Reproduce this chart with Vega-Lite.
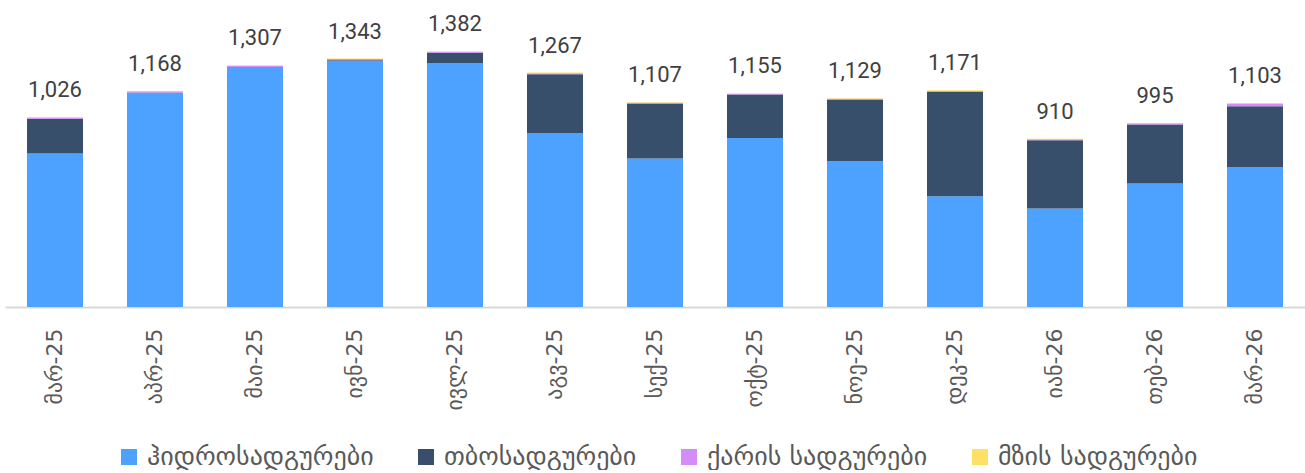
{
  "$schema": "https://vega.github.io/schema/vega-lite/v6.json",
  "width": 1300,
  "height": 296,
  "padding": {"left": 5, "top": 11, "right": 0, "bottom": 0},
  "background": "white",
  "config": {"view": {"stroke": null}, "font": "Roboto, DejaVu Sans"},
  "data": {"values": [
    {"m":"მარ-25","t":"ჰიდროსადგურები","o":1,"v":830},{"m":"მარ-25","t":"თბოსადგურები","o":2,"v":187},{"m":"მარ-25","t":"ქარის სადგურები","o":3,"v":8},{"m":"მარ-25","t":"მზის სადგურები","o":4,"v":1},
    {"m":"აპრ-25","t":"ჰიდროსადგურები","o":1,"v":1158},{"m":"აპრ-25","t":"თბოსადგურები","o":2,"v":1},{"m":"აპრ-25","t":"ქარის სადგურები","o":3,"v":7},{"m":"აპრ-25","t":"მზის სადგურები","o":4,"v":2},
    {"m":"მაი-25","t":"ჰიდროსადგურები","o":1,"v":1297},{"m":"მაი-25","t":"თბოსადგურები","o":2,"v":0},{"m":"მაი-25","t":"ქარის სადგურები","o":3,"v":7},{"m":"მაი-25","t":"მზის სადგურები","o":4,"v":3},
    {"m":"ივნ-25","t":"ჰიდროსადგურები","o":1,"v":1328},{"m":"ივნ-25","t":"თბოსადგურები","o":2,"v":6},{"m":"ივნ-25","t":"ქარის სადგურები","o":3,"v":7},{"m":"ივნ-25","t":"მზის სადგურები","o":4,"v":2},
    {"m":"ივლ-25","t":"ჰიდროსადგურები","o":1,"v":1319},{"m":"ივლ-25","t":"თბოსადგურები","o":2,"v":56},{"m":"ივლ-25","t":"ქარის სადგურები","o":3,"v":5},{"m":"ივლ-25","t":"მზის სადგურები","o":4,"v":2},
    {"m":"აგვ-25","t":"ჰიდროსადგურები","o":1,"v":941},{"m":"აგვ-25","t":"თბოსადგურები","o":2,"v":317},{"m":"აგვ-25","t":"ქარის სადგურები","o":3,"v":6},{"m":"აგვ-25","t":"მზის სადგურები","o":4,"v":3},
    {"m":"სექ-25","t":"ჰიდროსადგურები","o":1,"v":803},{"m":"სექ-25","t":"თბოსადგურები","o":2,"v":297},{"m":"სექ-25","t":"ქარის სადგურები","o":3,"v":4},{"m":"სექ-25","t":"მზის სადგურები","o":4,"v":3},
    {"m":"ოქტ-25","t":"ჰიდროსადგურები","o":1,"v":913},{"m":"ოქტ-25","t":"თბოსადგურები","o":2,"v":235},{"m":"ოქტ-25","t":"ქარის სადგურები","o":3,"v":5},{"m":"ოქტ-25","t":"მზის სადგურები","o":4,"v":2},
    {"m":"ნოე-25","t":"ჰიდროსადგურები","o":1,"v":788},{"m":"ნოე-25","t":"თბოსადგურები","o":2,"v":333},{"m":"ნოე-25","t":"ქარის სადგურები","o":3,"v":5},{"m":"ნოე-25","t":"მზის სადგურები","o":4,"v":3},
    {"m":"დეკ-25","t":"ჰიდროსადგურები","o":1,"v":599},{"m":"დეკ-25","t":"თბოსადგურები","o":2,"v":564},{"m":"დეკ-25","t":"ქარის სადგურები","o":3,"v":5},{"m":"დეკ-25","t":"მზის სადგურები","o":4,"v":3},
    {"m":"იან-26","t":"ჰიდროსადგურები","o":1,"v":533},{"m":"იან-26","t":"თბოსადგურები","o":2,"v":369},{"m":"იან-26","t":"ქარის სადგურები","o":3,"v":5},{"m":"იან-26","t":"მზის სადგურები","o":4,"v":3},
    {"m":"თებ-26","t":"ჰიდროსადგურები","o":1,"v":668},{"m":"თებ-26","t":"თბოსადგურები","o":2,"v":318},{"m":"თებ-26","t":"ქარის სადგურები","o":3,"v":7},{"m":"თებ-26","t":"მზის სადგურები","o":4,"v":2},
    {"m":"მარ-26","t":"ჰიდროსადგურები","o":1,"v":756},{"m":"მარ-26","t":"თბოსადგურები","o":2,"v":329},{"m":"მარ-26","t":"ქარის სადგურები","o":3,"v":15},{"m":"მარ-26","t":"მზის სადგურები","o":4,"v":3}
  ]},
  "encoding": {
    "x": {
      "field": "m", "type": "nominal", "title": null,
      "sort": ["მარ-25","აპრ-25","მაი-25","ივნ-25","ივლ-25","აგვ-25","სექ-25","ოქტ-25","ნოე-25","დეკ-25","იან-26","თებ-26","მარ-26"],
      "scale": {"paddingInner": 0.44, "paddingOuter": 0.22},
      "axis": {"labelAngle": -90, "labelFontSize": 22, "labelColor": "#595959", "labelPadding": 21, "ticks": false, "domainColor": "#d9d9d9", "domainWidth": 2, "labelFont": "DejaVu Sans", "labelLimit": 0}
    }
  },
  "layer": [
    {
      "mark": {"type": "bar"},
      "encoding": {
        "y": {"field": "v", "type": "quantitative", "stack": "zero", "scale": {"domain": [0, 1600]}, "axis": null},
        "order": {"field": "o", "type": "quantitative"},
        "color": {
          "field": "t", "type": "nominal",
          "scale": {"domain": ["ჰიდროსადგურები","თბოსადგურები","ქარის სადგურები","მზის სადგურები"], "range": ["#4DA2FF","#374F6B","#D38CF8","#FFE066"]},
          "legend": {"title": null, "orient": "none", "legendX": 111, "legendY": 433, "direction": "horizontal", "symbolType": "square", "symbolSize": 256, "symbolStrokeWidth": 0, "labelFontSize": 26, "labelColor": "#595959", "labelFont": "DejaVu Sans", "labelLimit": 0, "columnPadding": 39, "labelOffset": 5}
        }
      }
    },
    {
      "transform": [{"aggregate": [{"op": "sum", "field": "v", "as": "total"}], "groupby": ["m"]}],
      "mark": {"type": "text", "fontSize": 22, "color": "#404040", "baseline": "alphabetic", "dy": -20},
      "encoding": {
        "y": {"field": "total", "type": "quantitative"},
        "text": {"field": "total", "type": "quantitative", "format": ","}
      }
    }
  ]
}
